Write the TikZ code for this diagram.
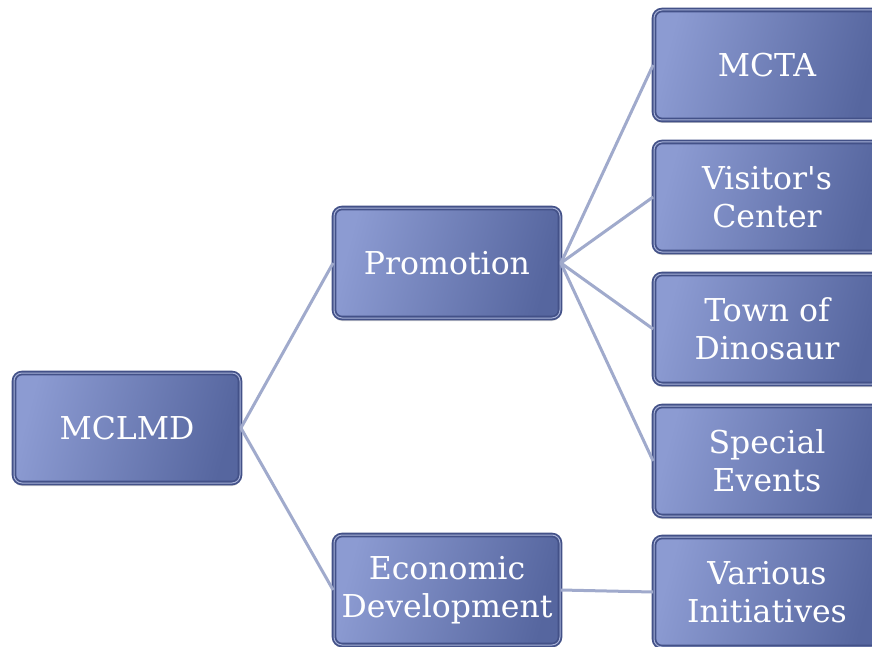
\documentclass[tikz,border=0pt]{standalone}
\usepackage{fontspec}
\setmainfont[Ligatures=TeXOff]{DejaVu Serif}
\usetikzlibrary{shadows}
\definecolor{bxlight}{HTML}{8C9BD2}
\definecolor{bxdark}{HTML}{56669F}
\definecolor{bxrim}{HTML}{435188}
\definecolor{bxrimin}{HTML}{A8B2D8}
\definecolor{lncol}{HTML}{A0AACC}
\tikzset{
 bx/.style={rectangle,rounded corners=8pt,draw=bxrim,line width=1.8pt,
  double=bxrimin,double distance=1pt,left color=bxlight,right color=bxdark,
  shading angle=75,minimum width=226pt,minimum height=110pt,inner sep=0pt,
  align=center,text=white,font=\fontsize{31.5}{38}\selectfont,
  drop shadow={shadow xshift=0pt,shadow yshift=-3pt,opacity=0.35}},
 ln/.style={draw=lncol,line width=3pt}}
\begin{document}
\begin{tikzpicture}[x=1pt,y=-1pt]
 \clip (0,0) rectangle (872,647);
 \fill[white] (0,0) rectangle (872,647);
 \node[bx] (mclmd) at (127,428) {MCLMD};
 \node[bx] (promo) at (447,263) {Promotion};
 \node[bx] (econ) at (447,590) {Economic\\Development};
 \node[bx] (mcta) at (767,65) {MCTA};
 \node[bx] (visit) at (767,197) {Visitor's\\Center};
 \node[bx] (town) at (767,329) {Town of\\Dinosaur};
 \node[bx] (spec) at (767,461) {Special\\Events};
 \node[bx] (vari) at (767,592) {Various\\Initiatives};
 \draw[ln] (mclmd.east) -- (promo.west) (mclmd.east) -- (econ.west);
 \foreach \k in {mcta,visit,town,spec}
  \draw[ln] (promo.east) -- (\k.west);
 \draw[ln] (econ.east) -- (vari.west);
\end{tikzpicture}
\end{document}
